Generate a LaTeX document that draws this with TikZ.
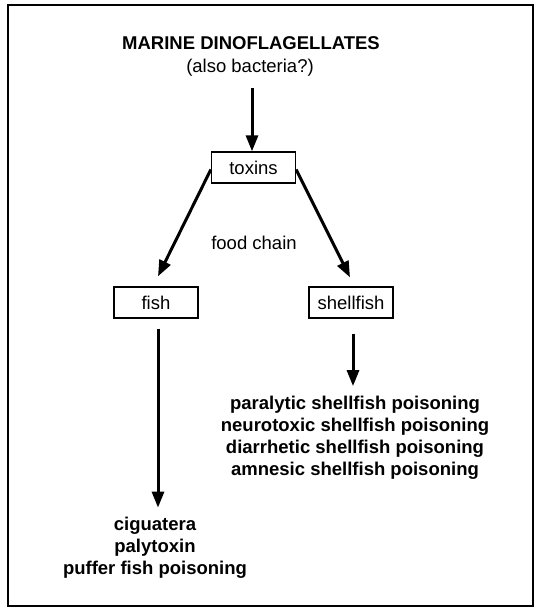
\documentclass[tikz,border=0pt]{standalone}
\usepackage{fontspec}
\setmainfont{Liberation Sans}
\usetikzlibrary{arrows.meta}
\begin{document}
\begin{tikzpicture}[x=1pt,y=-1pt,
  arr/.style={line width=3pt,-{Triangle[length=16pt,width=12pt]}},
  boxn/.style={draw,line width=1.3pt,minimum width=84pt,minimum height=31pt,inner sep=0pt,font=\fontsize{18.5}{21}\selectfont},
  bigbold/.style={font=\fontsize{18.5}{22}\selectfont\bfseries,align=center,inner sep=0pt},
  plain/.style={font=\fontsize{18.5}{21}\selectfont,inner sep=0pt}]
\useasboundingbox (0,0) rectangle (540,611);
\draw[line width=2pt] (8,5) rectangle (533,606);
\node[bigbold] (title) at (251,43) {MARINE DINOFLAGELLATES};
\node[plain] (sub) at (250,68) {(also bacteria?)};
\node[boxn] (toxins) at (253.5,167.5) {toxins};
\node[plain] (food) at (254,243) {food chain};
\node[boxn] (fish) at (156,302.5) {fish};
\node[boxn] (shell) at (351,302.5) {shellfish};
\node[bigbold] (fishout) at (155,547.5) {ciguatera\\palytoxin\\puffer fish poisoning};
\node[bigbold] (shellout) at (355,438) {paralytic shellfish poisoning\\neurotoxic shellfish poisoning\\diarrhetic shellfish poisoning\\amnesic shellfish poisoning};
\coordinate (a0) at (252,88);
\draw[arr] (a0) -- (toxins.north -| a0);
\draw[arr] ([yshift=-2pt]toxins.west) -- ([shift={(2,-10)}]fish.north);
\draw[arr] ([yshift=-2pt]toxins.east) -- ([shift={(-1,-9)}]shell.north);
\draw[arr] ([shift={(2,10)}]fish.south) -- ([shift={(2,-9)}]fish.south |- fishout.north);
\draw[arr] ([shift={(2,15)}]shell.south) -- ([shift={(2,-10)}]shell.south |- shellout.north);
\end{tikzpicture}
\end{document}
